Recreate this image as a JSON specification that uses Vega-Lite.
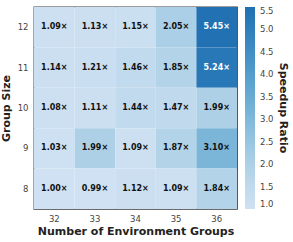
{
  "$schema": "https://vega.github.io/schema/vega-lite/v6.json",
  "width": 203,
  "height": 202,
  "autosize": {"type": "none"},
  "padding": {"left": 34, "top": 7, "right": 56, "bottom": 33},
  "background": "white",
  "config": {
    "font": "DejaVu Sans",
    "view": {"stroke": "#3a3a3a", "strokeWidth": 1.3},
    "axis": {"domain": false, "ticks": false, "grid": false, "labelFont": "DejaVu Sans", "labelFontSize": 8.5, "labelColor": "#444", "titleFont": "DejaVu Sans", "titleFontSize": 11, "titleFontWeight": "bold", "titleColor": "#222"}
  },
  "data": {"values": [
    {"groups": 32, "size": 12, "v": 1.09}, {"groups": 33, "size": 12, "v": 1.13}, {"groups": 34, "size": 12, "v": 1.15}, {"groups": 35, "size": 12, "v": 2.05}, {"groups": 36, "size": 12, "v": 5.45},
    {"groups": 32, "size": 11, "v": 1.14}, {"groups": 33, "size": 11, "v": 1.21}, {"groups": 34, "size": 11, "v": 1.46}, {"groups": 35, "size": 11, "v": 1.85}, {"groups": 36, "size": 11, "v": 5.24},
    {"groups": 32, "size": 10, "v": 1.08}, {"groups": 33, "size": 10, "v": 1.11}, {"groups": 34, "size": 10, "v": 1.44}, {"groups": 35, "size": 10, "v": 1.47}, {"groups": 36, "size": 10, "v": 1.99},
    {"groups": 32, "size": 9, "v": 1.03}, {"groups": 33, "size": 9, "v": 1.99}, {"groups": 34, "size": 9, "v": 1.09}, {"groups": 35, "size": 9, "v": 1.87}, {"groups": 36, "size": 9, "v": 3.10},
    {"groups": 32, "size": 8, "v": 1.00}, {"groups": 33, "size": 8, "v": 0.99}, {"groups": 34, "size": 8, "v": 1.12}, {"groups": 35, "size": 8, "v": 1.09}, {"groups": 36, "size": 8, "v": 1.84}
  ]},
  "transform": [{"calculate": "format(datum.v, '.2f') + '×'", "as": "label"}],
  "encoding": {
    "x": {"field": "groups", "type": "ordinal", "title": "Number of Environment Groups", "axis": {"labelAngle": 0, "labelPadding": 5, "titlePadding": 3}},
    "y": {"field": "size", "type": "ordinal", "sort": "descending", "title": "Group Size", "axis": {"labelPadding": 6, "titlePadding": 6}}
  },
  "layer": [
    {
      "mark": {"type": "rect"},
      "encoding": {
        "color": {
          "field": "v", "type": "quantitative",
          "scale": {"scheme": {"name": "blues", "extent": [0, 0.8]}, "domain": [1, 5.5], "clamp": true},
          "legend": {
            "title": "Speedup Ratio",
            "orient": "right",
            "offset": 8,
            "gradientLength": 202,
            "gradientThickness": 10,
            "values": [1, 1.5, 2, 2.5, 3, 3.5, 4, 4.5, 5, 5.5],
            "format": ".1f",
            "labelFontSize": 8.5,
            "labelColor": "#444",
            "labelOffset": 5,
            "labelBaseline": "middle",
            "labelOverlap": false,
            "titleOrient": "right",
            "titleAngle": 90,
            "titleAnchor": "middle",
            "titleBaseline": "bottom",
            "titleAlign": "center",
            "titleFontSize": 11,
            "titleFontWeight": "bold",
            "titleColor": "#222",
            "titlePadding": 4
          }
        }
      }
    },
    {
      "mark": {"type": "text", "fontSize": 8, "fontWeight": "bold"},
      "encoding": {
        "text": {"field": "label"},
        "color": {"condition": {"test": "datum.v > 4", "value": "white"}, "value": "#111"}
      }
    }
  ]
}
